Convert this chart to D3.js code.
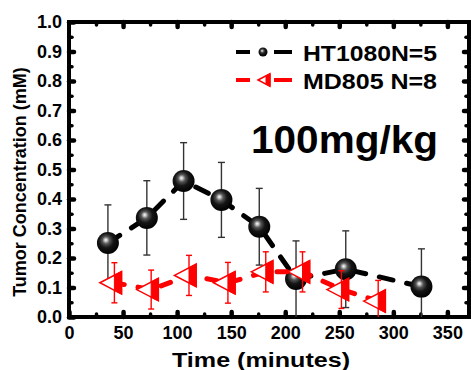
<!DOCTYPE html>
<html>
<head>
<meta charset="utf-8">
<script src="https://cdn.jsdelivr.net/npm/d3@7"></script>
<style>
  html, body { margin: 0; padding: 0; background: #fff; }
  svg { display: block; font-family: "Liberation Sans", Arial, sans-serif; font-weight: bold; }
</style>
</head>
<body>
<div id="chart"></div>
<script>
// HT1080 N=5 (black spheres)
const timeHT = [36, 72, 106, 141, 176, 210, 256, 326];
const concHT = [0.251, 0.336, 0.461, 0.397, 0.306, 0.129, 0.162, 0.103];
const errHT = [0.129, 0.126, 0.13, 0.127, 0.13, 0.129, 0.13, 0.128];

// MD805 N=8 (red half-filled triangles)
const timeMD = [42, 76, 111, 147, 182, 216, 252, 286];
const concMD = [0.116, 0.093, 0.141, 0.116, 0.153, 0.153, 0.093, 0.054];
const errMD = [0.068, 0.066, 0.068, 0.069, 0.068, 0.068, 0.064, 0.07];

const xMajor = [0, 50, 100, 150, 200, 250, 300, 350];
const xMinor = [25, 75, 125, 175, 225, 275, 325];
const yMajor = [0, 0.1, 0.2, 0.3, 0.4, 0.5, 0.6, 0.7, 0.8, 0.9, 1.0];
const yMinor = [0.05, 0.15, 0.25, 0.35, 0.45, 0.55, 0.65, 0.75, 0.85, 0.95];

const legendLabels = ['HT1080N=5', 'MD805 N=8'];
const doseLabel = '100mg/kg';

const W = 471, H = 370;
const margin = { top: 22, right: 2, bottom: 53, left: 69 };

const svg = d3.select('#chart').append('svg')
  .attr('width', W).attr('height', H);

const defs = svg.append('defs');
const grad = defs.append('radialGradient').attr('id', 'ball')
  .attr('cx', '0.45').attr('cy', '0.42').attr('r', '0.6')
  .attr('fx', '0.4').attr('fy', '0.36');
[['0%', '#ffffff'], ['10%', '#c8c8c8'], ['28%', '#555'], ['55%', '#151515'], ['100%', '#000']]
  .forEach(([o, c]) => grad.append('stop').attr('offset', o).attr('stop-color', c));

defs.append('clipPath').attr('id', 'plotClip').append('rect')
  .attr('x', margin.left).attr('y', margin.top)
  .attr('width', W - margin.left - margin.right)
  .attr('height', H - margin.top - margin.bottom);

const x = d3.scaleLinear().domain([0, 370]).range([margin.left, W - margin.right]);
const y = d3.scaleLinear().domain([0, 1]).range([H - margin.bottom, margin.top]);

// axes with inward ticks
function styleAxis(g, width) {
  g.select('.domain').remove();
  g.selectAll('.tick line').attr('stroke', '#000').attr('stroke-width', width).attr('stroke-linecap', 'round');
  g.selectAll('.tick text').attr('font-size', 18).attr('font-weight', 'bold')
    .attr('font-family', '"Liberation Sans", Arial, sans-serif').attr('fill', '#000');
}

svg.append('g').attr('transform', `translate(0,${y(0)})`)
  .call(d3.axisBottom(x).tickValues(xMinor).tickSize(-3).tickFormat(''))
  .call(g => styleAxis(g, 3.5));
svg.append('g').attr('transform', `translate(0,${y(0)})`)
  .call(d3.axisBottom(x).tickValues(xMajor).tickSize(-5).tickPadding(9).tickFormat(d3.format('d')))
  .call(g => styleAxis(g, 4.5));
svg.append('g').attr('transform', `translate(0,${y(1)})`)
  .call(d3.axisTop(x).tickValues(xMinor).tickSize(-3).tickFormat(''))
  .call(g => styleAxis(g, 3.5));
svg.append('g').attr('transform', `translate(0,${y(1)})`)
  .call(d3.axisTop(x).tickValues(xMajor.slice(1)).tickSize(-5).tickFormat(''))
  .call(g => styleAxis(g, 4.5));

svg.append('g').attr('transform', `translate(${x(0)},0)`)
  .call(d3.axisLeft(y).tickValues(yMinor).tickSize(-3).tickFormat(''))
  .call(g => styleAxis(g, 3.5));
svg.append('g').attr('transform', `translate(${x(0)},0)`)
  .call(d3.axisLeft(y).tickValues(yMajor).tickSize(-5).tickPadding(7).tickFormat(d3.format('.1f')))
  .call(g => styleAxis(g, 4.5));
svg.append('g').attr('transform', `translate(${x(370)},0)`)
  .call(d3.axisRight(y).tickValues(yMinor).tickSize(-3).tickFormat(''))
  .call(g => styleAxis(g, 3.5));
svg.append('g').attr('transform', `translate(${x(370)},0)`)
  .call(d3.axisRight(y).tickValues(yMajor.slice(1, -1)).tickSize(-5).tickFormat(''))
  .call(g => styleAxis(g, 4.5));

// frame
svg.append('rect')
  .attr('x', x(0)).attr('y', y(1))
  .attr('width', x(370) - x(0)).attr('height', y(0) - y(1))
  .attr('fill', 'none').attr('stroke', '#000').attr('stroke-width', 4);

const plot = svg.append('g').attr('clip-path', 'url(#plotClip)');

const ht = timeHT.map((t, i) => ({ t, v: concHT[i], e: errHT[i] }));
const md = timeMD.map((t, i) => ({ t, v: concMD[i], e: errMD[i] }));

const line = d3.line().x(d => x(d.t)).y(d => y(d.v));

// HT1080 series
plot.append('path').datum(ht).attr('d', line)
  .attr('fill', 'none').attr('stroke', '#000').attr('stroke-width', 5)
  .attr('stroke-dasharray', '14,14').attr('stroke-linecap', 'round');

function errorBars(g, data, color, cap, width) {
  const eb = g.append('g').attr('stroke', color).attr('stroke-width', width).attr('fill', 'none');
  data.forEach(d => {
    const top = y(d.v + d.e), bot = y(Math.max(0, d.v - d.e));
    eb.append('line').attr('x1', x(d.t)).attr('x2', x(d.t)).attr('y1', top).attr('y2', bot);
    eb.append('line').attr('x1', x(d.t) - cap).attr('x2', x(d.t) + cap).attr('y1', top).attr('y2', top);
    if (d.v - d.e > 0) eb.append('line').attr('x1', x(d.t) - cap).attr('x2', x(d.t) + cap).attr('y1', bot).attr('y2', bot);
  });
}
errorBars(plot, ht, '#333', 3.5, 1.4);

plot.selectAll('circle.ht').data(ht).enter().append('circle')
  .attr('class', 'ht')
  .attr('cx', d => x(d.t)).attr('cy', d => y(d.v)).attr('r', 11)
  .attr('fill', 'url(#ball)');

// MD805 series
plot.append('path').datum(md).attr('d', line)
  .attr('fill', 'none').attr('stroke', '#ff0000').attr('stroke-width', 5)
  .attr('stroke-dasharray', '10,14').attr('stroke-linecap', 'round');
errorBars(plot, md, '#ff0000', 3, 1.4);

function triangle(g, cx, cy, s) {
  const ax = -14.5 * s, bx = 7.2 * s, h = 11.3 * s, hm = h * (-ax) / (bx - ax);
  g.append('path')
    .attr('d', `M${cx + ax},${cy}L${cx + bx},${cy - h}L${cx + bx},${cy + h}Z`)
    .attr('fill', '#fff').attr('stroke', '#ff0000').attr('stroke-width', 1.5);
  g.append('path')
    .attr('d', `M${cx},${cy - hm}L${cx + bx},${cy - h}L${cx + bx},${cy + h}L${cx},${cy + hm}Z`)
    .attr('fill', '#ff0000').attr('stroke', '#ff0000').attr('stroke-width', 1);
}
md.forEach(d => triangle(plot, x(d.t), y(d.v), 1));

// legend
const leg = svg.append('g');
const legY = [52, 80];
leg.append('line').attr('x1', 236).attr('x2', 250).attr('y1', legY[0]).attr('y2', legY[0])
  .attr('stroke', '#000').attr('stroke-width', 4);
leg.append('line').attr('x1', 274).attr('x2', 292).attr('y1', legY[0]).attr('y2', legY[0])
  .attr('stroke', '#000').attr('stroke-width', 4);
leg.append('circle').attr('cx', 263).attr('cy', legY[0]).attr('r', 4.5).attr('fill', 'url(#ball)');
leg.append('line').attr('x1', 236).attr('x2', 250).attr('y1', legY[1]).attr('y2', legY[1])
  .attr('stroke', '#ff0000').attr('stroke-width', 4);
leg.append('line').attr('x1', 274).attr('x2', 292).attr('y1', legY[1]).attr('y2', legY[1])
  .attr('stroke', '#ff0000').attr('stroke-width', 4);
triangle(leg, 266, legY[1], 0.55);

legendLabels.forEach((t, i) => {
  leg.append('text').attr('x', 303).attr('y', legY[i] + 8.6)
    .attr('font-size', 22).attr('textLength', 134).attr('lengthAdjust', 'spacingAndGlyphs')
    .text(t);
});

svg.append('text').attr('x', 251).attr('y', 153)
  .attr('font-size', 38).attr('textLength', 187).attr('lengthAdjust', 'spacingAndGlyphs')
  .text(doseLabel);

// axis titles
svg.append('text').attr('x', 172).attr('y', 366.5)
  .attr('font-size', 21).attr('textLength', 178).attr('lengthAdjust', 'spacingAndGlyphs')
  .text('Time (minutes)');

svg.append('text')
  .attr('transform', 'translate(26,182) rotate(-90)')
  .attr('text-anchor', 'middle').attr('font-size', 18)
  .text('Tumor Concentration (mM)');
</script>
</body>
</html>
